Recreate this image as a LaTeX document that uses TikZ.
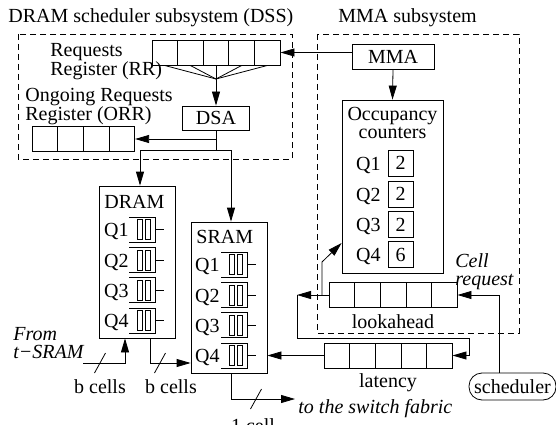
\documentclass[tikz,border=0pt]{standalone}
\usepackage{fontspec}
\setmainfont{Liberation Serif}
\usepackage{tikz}
\usetikzlibrary{arrows.meta,shapes,positioning}

\begin{document}
\begin{tikzpicture}[
        x=1pt, y=-1pt,
        line width=.8pt,
        >={Triangle[length=14pt,width=8pt]},
        every node/.style={inner sep=0pt, font=\fontsize{20}{18}\selectfont},
        note/.style={font=\fontsize{20}{18}\selectfont\itshape},
        block/.style={draw, line width=.8pt},
        counter/.style={draw, line width=.8pt, minimum width=25pt, minimum height=26pt},
        reg/.style={draw, line width=.8pt, rectangle split, rectangle split horizontal,
            rectangle split parts=#1,
            rectangle split empty part width=20.4pt,
            rectangle split empty part height=12.5pt,
            rectangle split empty part depth=12.5pt},
        subsys/.style={dash pattern=on 6pt off 4pt},
        queue/.pic={
            \draw (-26,-12.5) -- (0,-12.5) -- (0,12.5) -- (-26,12.5);
            \draw (-18,-10) rectangle (-13,10) (-10,-10) rectangle (-5,10);
            \draw (0,0) -- (9,0);
        },
        slash/.pic={\draw (-5.5,10) -- (5.5,-10);}
    ]
    \useasboundingbox (0,0) rectangle (556,425);

    % Subsystems
    \draw[subsys] (18,34) rectangle (292,159);
    \draw[subsys] (317,34) rectangle (519,333);
    \node[anchor=base west] (dsstitle) at (8,23) {DRAM scheduler subsystem (DSS)};
    \node[anchor=base west] (mmatitle) at (338,23) {MMA subsystem};

    % Registers
    \node[reg=5] (rr) at (216,52.5) {};
    \node[reg=4] (orr) at (83.5,139) {};
    \node[reg=5] (look) at (393,295) {};
    \node[reg=5] (lat) at (388,355.5) {};
    \node[anchor=north west, align=left, font=\fontsize{20}{16.5}\selectfont] (rrlabel) at (50,43)
        {Requests\\Register (RR)};
    \node[anchor=north west, align=left] (orrlabel) at (25,88)
        {Ongoing Requests\\Register (ORR)};
    \node[below=6pt of look] (looklabel) {lookahead};
    \node[below=5pt of lat] (latlabel) {latency};

    % Blocks
    \node[block, minimum width=82pt, minimum height=25pt] (mma) at (393,56.5) {MMA};
    \node[block, minimum width=67pt, minimum height=24pt] (dsa) at (216,118) {DSA};
    \node[block, minimum width=76pt, minimum height=152pt] (dram) at (137,262) {};
    \node[block, minimum width=76pt, minimum height=151pt] (sram) at (229,297.5) {};
    \node[block, minimum width=101pt, minimum height=173pt] (occ) at (392.5,186.5) {};
    \node[block, rounded corners=13pt, minimum width=87pt, minimum height=27pt] (sched)
        at (512.5,386.5) {scheduler};

    % DRAM queues
    \node[anchor=north west] (dramlabel) at (104,195) {DRAM};
    \node[anchor=base east] (dq1) at (129,236.5) {Q1};
    \node[anchor=base east] (dq2) at (129,267) {Q2};
    \node[anchor=base east] (dq3) at (129,297) {Q3};
    \node[anchor=base east] (dq4) at (129,327.5) {Q4};
    \pic at (155,229.5) {queue};
    \pic at (155,260) {queue};
    \pic at (155,290) {queue};
    \pic at (155,320.5) {queue};

    % SRAM queues
    \node[anchor=north west] (sramlabel) at (196,230) {SRAM};
    \node[anchor=base east] (sq1) at (220,271.5) {Q1};
    \node[anchor=base east] (sq2) at (220,302) {Q2};
    \node[anchor=base east] (sq3) at (220,332) {Q3};
    \node[anchor=base east] (sq4) at (220,362.5) {Q4};
    \pic at (247,264.5) {queue};
    \pic at (247,295) {queue};
    \pic at (247,325) {queue};
    \pic at (247,355.5) {queue};

    % Occupancy counters
    \node[anchor=north, align=center] (occlabel) at (392.5,107) {Occupancy\\counters};
    \node[anchor=base east] (oq1) at (381,170) {Q1};
    \node[anchor=base east] (oq2) at (381,201) {Q2};
    \node[anchor=base east] (oq3) at (381,231.5) {Q3};
    \node[anchor=base east] (oq4) at (381,261.5) {Q4};
    \node[counter] (c1) at (400.5,163) {2};
    \node[counter] (c2) at (400.5,194) {2};
    \node[counter] (c3) at (400.5,224.5) {2};
    \node[counter] (c4) at (400.5,254.5) {6};

    % Free texts
    \node[note, anchor=north west, align=left] (celllabel) at (455,253) {Cell\\request};
    \node[note, anchor=north west, align=left] (fromlabel) at (13,327) {From\\t−SRAM};
    \node[note, anchor=base west] (fabriclabel) at (298,413) {to the switch fabric};
    \node[anchor=base] (bin) at (100,393) {b cells};
    \node[anchor=base] (bout) at (171,393) {b cells};
    \node[anchor=base] (onecell) at (253,432) {1 cell};

    % Coordinates
    \coordinate (fan) at (216,79);
    \coordinate (fork) at (216,150);
    \coordinate (tap) at (322,295);
    \coordinate (turn) at (297,295);
    \coordinate (back) at (469,338);
    \coordinate (tin) at (83,363);
    \coordinate (fabric) at (295,399);

    % Edges
    \draw[->] (mma.west |- rr.east) -- (rr.east);
    \draw[->] (mma.south) -- (occ.north);
    \draw (rr.one south) -- (fan);
    \draw (rr.two south) -- (fan);
    \draw (rr.three south) -- (fan);
    \draw (rr.four south) -- (fan);
    \draw (rr.five south) -- (fan);
    \draw[->] (fan) -- (dsa.north);
    \draw (dsa.south) -- (fork);
    \draw[->] (dsa.south |- orr.east) -- (orr.east);
    \draw[->] (fork) -| ([xshift=3pt]dram.north);
    \draw[->] (fork) -| ([xshift=2pt]sram.north);

    \draw[->] ([xshift=-13.5pt]sched.north) |- (look.east);
    \draw[->] (look.west) -- (turn);
    \draw[->] (turn) |- (back) |- (lat.east);
    \draw[->] (tap) -- ++(0,-33) -- (occ.west |- 0,243);
    \draw[->] (lat.west) -- (lat.west -| sram.east);

    \draw[->] (tin) -| ([xshift=-12pt]dram.south);
    \draw[->] ([xshift=13pt]dram.south) |- (sram.west |- 0,363);
    \draw[->] ([xshift=2pt]sram.south) |- (fabric);
    \pic at (100,363) {slash};
    \pic at (160,363) {slash};
    \pic at (256,399) {slash};

\end{tikzpicture}
\end{document}
